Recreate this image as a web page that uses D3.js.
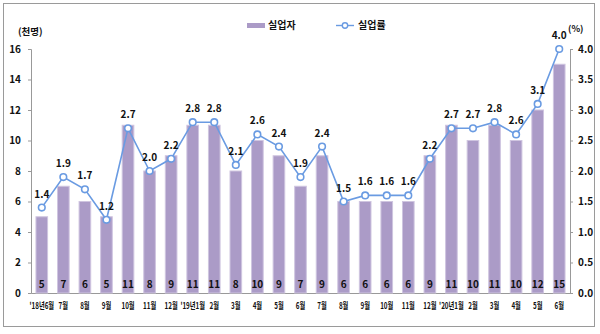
<!DOCTYPE html>
<html><head><meta charset="utf-8">
<script src="https://cdn.jsdelivr.net/npm/d3@7"></script>
<style>
html,body{margin:0;padding:0;background:#fff;}
svg text{font-family:"Liberation Sans Narrow","Noto Sans CJK KR",sans-serif;font-weight:bold;fill:#111;}
</style></head>
<body><svg id="c" width="600" height="334"></svg>
<script>
const categories = ["'18년6월","7월","8월","9월","10월","11월","12월","'19년1월","2월","3월","4월","5월","6월","7월","8월","9월","10월","11월","12월","'20년1월","2월","3월","4월","5월","6월"];
const unemployed = [5,7,6,5,11,8,9,11,11,8,10,9,7,9,6,6,6,6,9,11,10,11,10,12,15];
const rate = [1.4,1.9,1.7,1.2,2.7,2.0,2.2,2.8,2.8,2.1,2.6,2.4,1.9,2.4,1.5,1.6,1.6,1.6,2.2,2.7,2.7,2.8,2.6,3.1,4.0];
const leftTicks = [0,2,4,6,8,10,12,14,16];
const rightTicks = [0.0,0.5,1.0,1.5,2.0,2.5,3.0,3.5,4.0];

const svg = d3.select("#c");
const L = 31, R = 570, T = 49, B = 293;
const barColor = "#ab9bc7", lineColor = "#6a9be2";

svg.append("rect").attr("x",3.5).attr("y",3.5).attr("width",591).attr("height",323)
  .attr("fill","#fff").attr("stroke","#9a9a9a").attr("stroke-width",1);

const x = d3.scaleBand().domain(d3.range(categories.length)).range([L,R]).paddingInner(0.46).paddingOuter(0.23);
const yL = d3.scaleLinear().domain([0,16]).range([B,T]);
const yR = d3.scaleLinear().domain([0,4]).range([B,T]);

// axes
const gl = svg.append("g").attr("transform",`translate(${L},0)`)
  .call(d3.axisLeft(yL).tickValues(leftTicks).tickSize(3).tickPadding(7));
gl.select(".domain").attr("stroke","#999");
gl.selectAll(".tick line").attr("stroke","#999");
gl.selectAll("text").style("font-size","10px");

const gr = svg.append("g").attr("transform",`translate(${R},0)`)
  .call(d3.axisRight(yR).tickValues(rightTicks).tickFormat(d3.format(".1f")).tickSize(3).tickPadding(5));
gr.select(".domain").attr("stroke","#999");
gr.selectAll(".tick line").attr("stroke","#999");
gr.selectAll("text").style("font-size","10px");

const gb = svg.append("g").attr("transform",`translate(0,${B})`)
  .call(d3.axisBottom(x).tickFormat(i=>categories[i]).tickSize(0).tickPadding(9));
gb.select(".domain").attr("stroke","#999");
gb.selectAll("text").style("font-size","9.5px").attr("transform","scale(0.66,1)");

// bars
svg.append("g").selectAll("rect").data(unemployed).join("rect")
  .attr("x",(d,i)=>x(i)).attr("width",x.bandwidth())
  .attr("y",d=>yL(d)).attr("height",d=>B-yL(d))
  .attr("fill",barColor).attr("stroke","#cfc5e0").attr("stroke-width",1);

svg.append("g").selectAll("text").data(unemployed).join("text")
  .attr("x",(d,i)=>x(i)+x.bandwidth()/2).attr("y",B-5)
  .attr("text-anchor","middle").style("font-size","10px").text(d=>d);

// line
const cx = i => x(i)+x.bandwidth()/2;
svg.append("path").datum(rate)
  .attr("d",d3.line().x((d,i)=>cx(i)).y(d=>yR(d)))
  .attr("fill","none").attr("stroke",lineColor).attr("stroke-width",1.6);
svg.append("g").selectAll("circle").data(rate).join("circle")
  .attr("cx",(d,i)=>cx(i)).attr("cy",d=>yR(d)).attr("r",3.3)
  .attr("fill","#fff").attr("stroke",lineColor).attr("stroke-width",1.6);
svg.append("g").selectAll("text").data(rate).join("text")
  .attr("x",(d,i)=>cx(i)).attr("y",d=>yR(d)-10)
  .attr("text-anchor","middle").style("font-size","10px").text(d=>d.toFixed(1));

// unit labels
svg.append("text").attr("x",18).attr("y",35).style("font-size","9.5px").text("(천명)");
svg.append("text").attr("x",568).attr("y",32).style("font-size","9px").text("(%)");

// legend
svg.append("rect").attr("x",247).attr("y",23).attr("width",18).attr("height",5).attr("fill",barColor);
svg.append("text").attr("x",268).attr("y",29).style("font-size","10px").text("실업자");
svg.append("line").attr("x1",336).attr("x2",354).attr("y1",25.5).attr("y2",25.5).attr("stroke",lineColor).attr("stroke-width",1.4);
svg.append("circle").attr("cx",345).attr("cy",25.5).attr("r",2.7).attr("fill","#fff").attr("stroke",lineColor).attr("stroke-width",1.4);
svg.append("text").attr("x",358).attr("y",29).style("font-size","10px").text("실업률");
</script></body></html>
